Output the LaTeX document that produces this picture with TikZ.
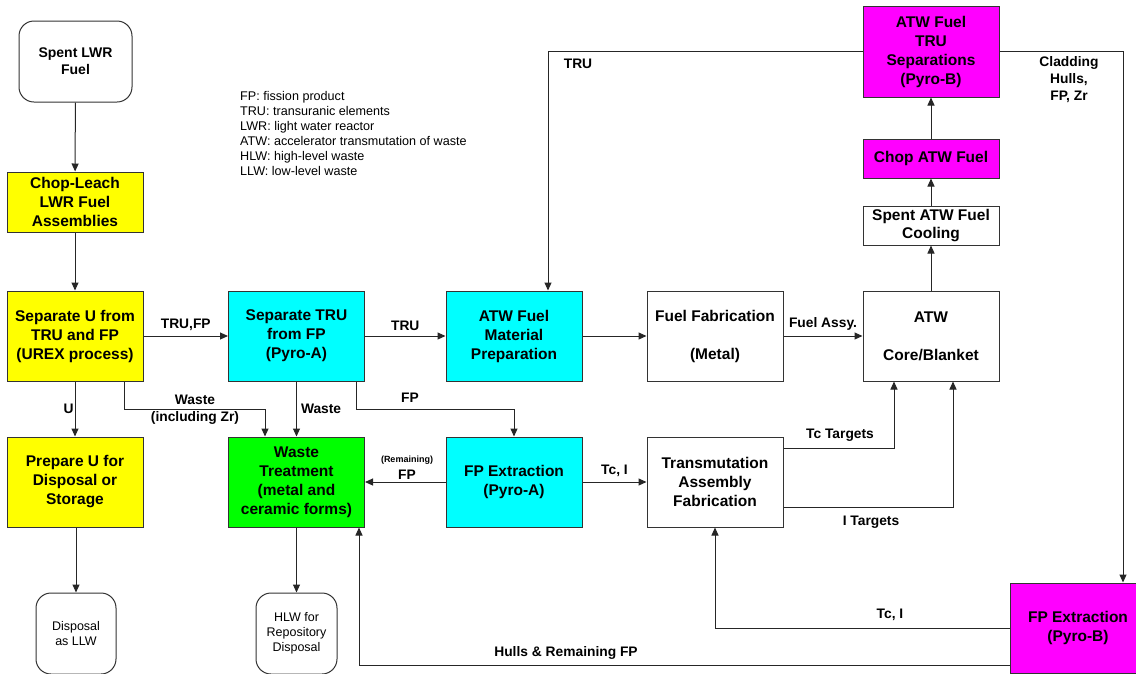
\documentclass[tikz,border=0pt]{standalone}
\usepackage{fontspec}
\setmainfont{Liberation Sans}
\usetikzlibrary{arrows.meta,calc}
\definecolor{cYel}{RGB}{255,255,0}
\definecolor{cCyan}{RGB}{0,255,255}
\definecolor{cGreen}{RGB}{0,255,0}
\definecolor{cMag}{RGB}{255,0,255}
\begin{document}
\begin{tikzpicture}[x=1pt,y=-1pt,
 box/.style={draw=black!80, line width=1pt, align=center, inner sep=0pt, minimum width=136pt, minimum height=90pt, font=\bfseries\fontsize{15.5}{19}\selectfont},
 rbox/.style={box, rounded corners=15pt},
 arr/.style={draw=black!85, line width=1pt, -{Triangle[length=8pt,width=7pt]}},
 lab/.style={font=\bfseries\fontsize{13.8}{17}\selectfont, inner sep=0pt, align=center},
]
\useasboundingbox (0,0) rectangle (1136,673);
% boxes
\node[rbox, minimum width=113pt, minimum height=81pt, font=\bfseries\fontsize{14}{17}\selectfont] (spent) at (75.5,61.5) {Spent LWR\\Fuel};
\node[box, fill=cYel, minimum height=60pt] (chop) at (75,202) {Chop-Leach\\LWR Fuel\\Assemblies};
\node[box, fill=cYel] (sepU) at (75,336) {Separate U from\\TRU and FP\\(UREX process)};
\node[box, fill=cCyan] (sepTRU) at (296.5,336) {Separate TRU\\from FP\\(Pyro-A)};
\node[box, fill=cYel] (prepU) at (75,482) {Prepare U for\\Disposal or\\Storage};
\node[box, fill=cGreen] (waste) at (296.5,482) {Waste\\Treatment\\(metal and\\ceramic forms)};
\node[rbox, minimum width=80pt, minimum height=81pt, font=\fontsize{12.5}{15}\selectfont] (llw) at (76,633.5) {Disposal\\as LLW};
\node[rbox, minimum width=81pt, minimum height=81pt, font=\fontsize{12.5}{15}\selectfont] (hlw) at (296.5,633.5) {HLW for\\Repository\\Disposal};
\node[box, fill=cCyan] (atwmat) at (514,336) {ATW Fuel\\Material\\Preparation};
\node[box] (fuelfab) at (715,336) {Fuel Fabrication\\[19pt](Metal)};
\node[box, fill=cCyan] (fpA) at (514,482) {FP Extraction\\(Pyro-A)};
\node[box] (trans) at (715,482) {Transmutation\\Assembly\\Fabrication};
\node[box] (core) at (931,336) {ATW\\[19pt]Core/Blanket};
\node[box, minimum height=39pt, font=\bfseries\fontsize{15.5}{18}\selectfont] (cool) at (931,225.5) {Spent ATW Fuel\\Cooling};
\node[box, fill=cMag, minimum height=39pt] (chopatw) at (931,158.5) {Chop ATW Fuel};
\node[box, fill=cMag, minimum height=91pt] (trusep) at (931,51.5) {ATW Fuel\\TRU\\Separations\\(Pyro-B)};
\node[box, fill=cMag] (fpB) at (1078,628) {FP Extraction\\(Pyro-B)};
% legend
\node[anchor=north west, inner sep=0pt, align=left, font=\fontsize{12.6}{15}\selectfont] (legend) at (240,91) {FP: fission product\\TRU: transuranic elements\\LWR: light water reactor\\ATW: accelerator transmutation of waste\\HLW: high-level waste\\LLW: low-level waste};
% connectors
\draw[arr] (spent) -- (chop);
\draw[arr] (chop) -- (sepU);
\draw[arr] (sepU) -- node[lab, above=5pt]{TRU,FP} (sepTRU);
\draw[arr] (sepU) -- node[lab, left=1pt]{U} (prepU);
\draw[arr] (llw.north |- prepU.south) -- (llw);
\draw[arr] (waste) -- (hlw);
\draw[arr] ([xshift=49pt]sepU.south) -- ++(0,28) -| ([xshift=-31.5pt]waste.north);
\node[lab] (lwaste1) at (195,410) {Waste\\(including Zr)};
\draw[arr] (sepTRU) -- node[lab, right=4pt]{Waste} (waste);
\draw[arr] ([xshift=59.5pt]sepTRU.south) -- ++(0,28) -| (fpA.north);
\node[lab] (lfp1) at (410,398) {FP};
\draw[arr] (sepTRU) -- node[lab, above=5pt]{TRU} (atwmat);
\draw[arr] (atwmat) -- (fuelfab);
\draw[arr] (fuelfab) -- node[lab, above=5pt]{Fuel Assy.} (core);
\draw[arr] (core) -- (cool);
\draw[arr] (cool) -- (chopatw);
\draw[arr] (chopatw) -- (trusep);
\draw[arr] (trusep.west) -| ([xshift=34pt]atwmat.north);
\node[lab] (ltru2) at (578,64) {TRU};
\draw[arr] (trusep.east) -| ([xshift=45pt]fpB.north);
\node[lab] (lclad) at (1069,80) {Cladding\\Hulls,\\FP, Zr};
\draw[arr] (fpA) -- (waste);
\node[lab, font=\bfseries\fontsize{9}{11}\selectfont] (lrem) at (407,460) {(Remaining)};
\node[lab] (lremfp) at (407,475) {FP};
\draw[arr] (fpA) -- node[lab, above=5pt]{Tc, I} (trans);
\draw[arr] ([yshift=34pt]trans.east) -| ([xshift=-37pt]core.south);
\node[lab] (ltct) at (840,435) {Tc Targets};
\draw[arr] ([yshift=-25pt]trans.east) -| ([xshift=22pt]core.south);
\node[lab] (lit) at (871,522) {I Targets};
\draw[arr] (fpB.west) -| (trans.south);
\node[lab] (ltci) at (890,615) {Tc, I};
\draw[arr] ([yshift=-37pt]fpB.west) -| ([xshift=62.5pt]waste.south);
\node[lab] (lhulls) at (566,653) {Hulls \& Remaining FP};
\end{tikzpicture}
\end{document}
